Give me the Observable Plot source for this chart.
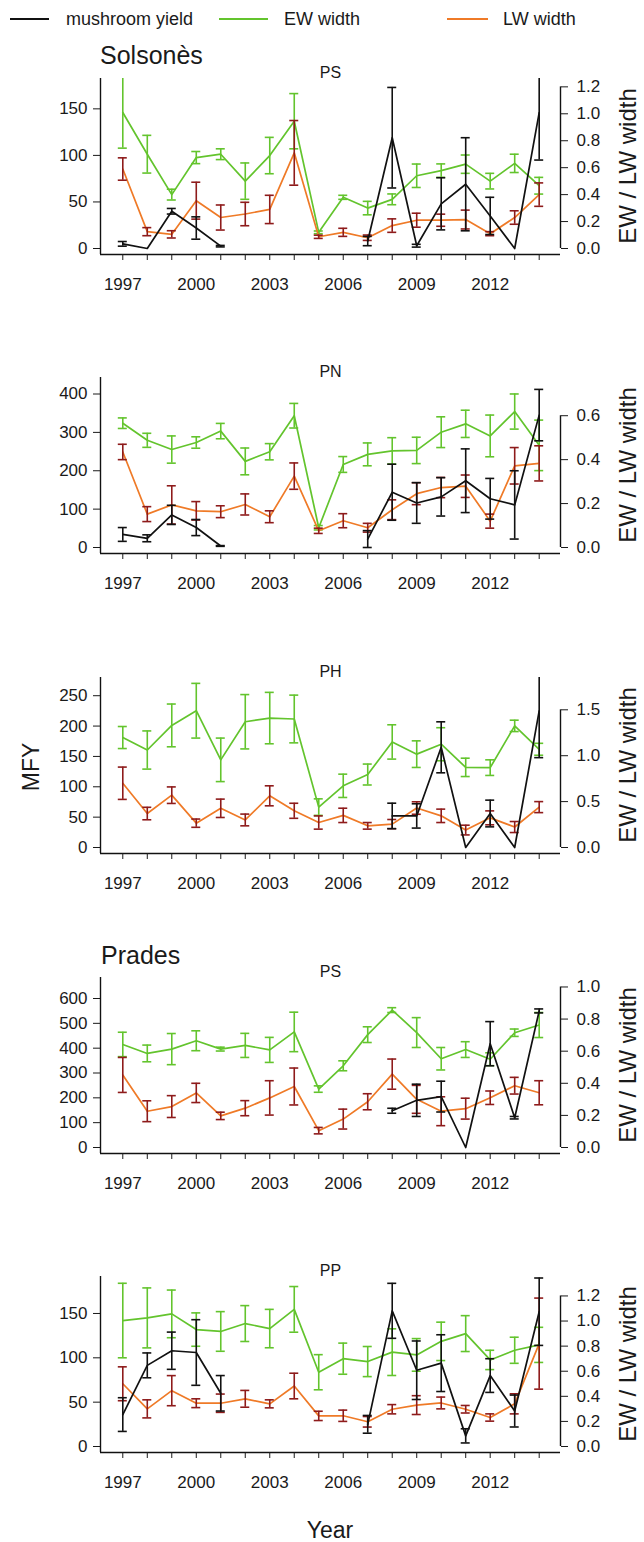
<!DOCTYPE html>
<html>
<head>
<meta charset="utf-8">
<script src="https://cdn.jsdelivr.net/npm/d3@7"></script>
<script src="https://cdn.jsdelivr.net/npm/@observablehq/plot@0.6"></script>
<style>
  body { margin: 0; background: #fff; font-family: "Liberation Sans", Arial, sans-serif; color: #1a1a1a; }
  #fig { position: relative; width: 644px; height: 1542px; overflow: hidden; background: #fff; }
  .abs { position: absolute; white-space: nowrap; }
  .key { position: absolute; height: 0; border-top: 2px solid; }
</style>
</head>
<body>
<div id="fig"></div>
<script>
// Years sampled (x axis) and which of them carry a tick label
const years = d3.range(1997, 2015);
const labeledYears = [1997, 2000, 2003, 2006, 2009, 2012];

// Solsonès – PS: mushroom yield (left axis) and earlywood / latewood width (right axis)
const mushSolPS    = [5, 0, 40, 22, 2.5, null, null, null, null, null, 8, 119, 3, 48, 69, 35, 0, 146];
const mushErrSolPS = [2.5, null, 3, 12, 0.8, null, null, null, null, null, 5, 54, 1.5, 28, 50, 20, null, 51];
const ewSolPS      = [1.01, 0.70, 0.40, 0.675, 0.70, 0.50, 0.69, 0.945, 0.12, 0.38, 0.30, 0.365, 0.54, 0.578, 0.626, 0.50, 0.632, 0.466];
const ewErrSolPS   = [0.265, 0.14, 0.04, 0.045, 0.04, 0.135, 0.135, 0.205, 0.01, 0.015, 0.05, 0.04, 0.087, 0.05, 0.068, 0.058, 0.068, 0.062];
const lwSolPS      = [0.59, 0.125, 0.105, 0.355, 0.23, 0.256, 0.29, 0.71, 0.087, 0.12, 0.08, 0.17, 0.21, 0.21, 0.215, 0.11, 0.23, 0.40];
const lwErrSolPS   = [0.083, 0.03, 0.027, 0.137, 0.093, 0.087, 0.105, 0.24, 0.012, 0.03, 0.02, 0.05, 0.052, 0.045, 0.07, 0.015, 0.05, 0.087];

// Solsonès – PN
const mushSolPN    = [34, 24, 85, 52, 4, null, null, null, null, null, 22, 144, 116, 132, 174, 127, 111, 345];
const mushErrSolPN = [18, 9, 25, 21, 1, null, null, null, null, null, 22, 73, 53, 50, 83, 53, 89, 67];
const ewSolPN      = [0.566, 0.488, 0.446, 0.478, 0.53, 0.392, 0.436, 0.60, 0.09, 0.378, 0.424, 0.44, 0.442, 0.525, 0.563, 0.508, 0.619, 0.465];
const ewErrSolPN   = [0.024, 0.032, 0.062, 0.026, 0.035, 0.061, 0.037, 0.056, 0.01, 0.036, 0.052, 0.06, 0.06, 0.07, 0.062, 0.095, 0.08, 0.115];
const lwSolPN      = [0.435, 0.152, 0.194, 0.167, 0.163, 0.196, 0.14, 0.325, 0.076, 0.122, 0.09, 0.172, 0.245, 0.273, 0.279, 0.12, 0.372, 0.383];
const lwErrSolPN   = [0.035, 0.034, 0.087, 0.042, 0.027, 0.048, 0.027, 0.06, 0.012, 0.032, 0.02, 0.045, 0.05, 0.046, 0.051, 0.032, 0.083, 0.08];

// Solsonès – PH
const mushSolPH    = [null, null, null, null, null, null, null, null, null, null, null, 52, 52, 165, 0, 56, 0, 225];
const mushErrSolPH = [null, null, null, null, null, null, null, null, null, null, null, 21, 20, 42, null, 22, null, 77];
const ewSolPH      = [1.198, 1.062, 1.33, 1.49, 0.955, 1.37, 1.41, 1.40, 0.44, 0.672, 0.795, 1.15, 1.017, 1.125, 0.873, 0.87, 1.325, 1.07];
const ewErrSolPH   = [0.12, 0.208, 0.233, 0.298, 0.237, 0.296, 0.28, 0.26, 0.09, 0.127, 0.114, 0.187, 0.145, 0.18, 0.1, 0.085, 0.062, 0.065];
const lwSolPH      = [0.70, 0.37, 0.57, 0.265, 0.427, 0.30, 0.563, 0.40, 0.272, 0.35, 0.236, 0.255, 0.43, 0.345, 0.19, 0.323, 0.223, 0.44];
const lwErrSolPH   = [0.176, 0.068, 0.09, 0.045, 0.1, 0.064, 0.109, 0.082, 0.072, 0.078, 0.036, 0.05, 0.068, 0.073, 0.053, 0.076, 0.06, 0.06];

// Prades – PS
const mushPraPS    = [null, null, null, null, null, null, null, null, null, null, null, 148, 190, 205, 0, 418, 120, 550];
const mushErrPraPS = [null, null, null, null, null, null, null, null, null, null, null, 10, 65, 62, null, 89, 5, 8];
const ewPraPS      = [0.642, 0.586, 0.613, 0.665, 0.613, 0.636, 0.608, 0.72, 0.364, 0.509, 0.703, 0.856, 0.716, 0.553, 0.61, 0.55, 0.715, 0.763];
const ewErrPraPS   = [0.076, 0.052, 0.097, 0.062, 0.012, 0.075, 0.078, 0.123, 0.02, 0.031, 0.049, 0.015, 0.093, 0.07, 0.049, 0.04, 0.023, 0.078];
const lwPraPS      = [0.452, 0.226, 0.255, 0.34, 0.197, 0.245, 0.309, 0.38, 0.105, 0.177, 0.285, 0.457, 0.30, 0.226, 0.242, 0.31, 0.385, 0.341];
const lwErrPraPS   = [0.109, 0.065, 0.068, 0.06, 0.023, 0.047, 0.107, 0.115, 0.02, 0.062, 0.05, 0.094, 0.087, 0.09, 0.065, 0.042, 0.052, 0.075];

// Prades – PP
const mushPraPP    = [36, 91.5, 108, 106, 60, null, null, null, null, null, 25, 153, 86, 94, 12, 80, 40, 152];
const mushErrPraPP = [19, 14, 21, 37, 20, null, null, null, null, null, 10, 31, 33, 32, 8, 19, 18, 38];
const ewPraPP      = [1.004, 1.025, 1.057, 0.932, 0.917, 0.98, 0.94, 1.093, 0.592, 0.70, 0.677, 0.752, 0.73, 0.838, 0.90, 0.69, 0.767, 0.81];
const ewErrPraPP   = [0.297, 0.239, 0.19, 0.133, 0.158, 0.143, 0.153, 0.182, 0.14, 0.124, 0.12, 0.186, 0.13, 0.153, 0.143, 0.077, 0.104, 0.14];
const lwPraPP      = [0.50, 0.30, 0.445, 0.345, 0.345, 0.38, 0.34, 0.482, 0.244, 0.245, 0.197, 0.297, 0.33, 0.347, 0.297, 0.231, 0.34, 0.82];
const lwErrPraPP   = [0.135, 0.072, 0.12, 0.035, 0.073, 0.067, 0.032, 0.102, 0.037, 0.045, 0.042, 0.037, 0.075, 0.047, 0.03, 0.029, 0.08, 0.363];

// Axis extents (left: mushroom yield, right: ring width) and tick values for each panel
const panelNames   = ["PS", "PN", "PH", "PS", "PP"];
const leftMax      = [182.6, 443, 280, 684.6, 191.7];
const rightMax     = [1.262, 0.774, 1.852, 1.059, 1.355];
const leftTicks    = [[0, 50, 100, 150], [0, 100, 200, 300, 400], [0, 50, 100, 150, 200, 250], [0, 100, 200, 300, 400, 500, 600], [0, 50, 100, 150]];
const rightTicks   = [[0, 0.2, 0.4, 0.6, 0.8, 1.0, 1.2], [0, 0.2, 0.4, 0.6], [0, 0.5, 1.0, 1.5], [0, 0.2, 0.4, 0.6, 0.8, 1.0], [0, 0.2, 0.4, 0.6, 0.8, 1.0, 1.2]];

const series = [
  [mushSolPS, mushErrSolPS, ewSolPS, ewErrSolPS, lwSolPS, lwErrSolPS],
  [mushSolPN, mushErrSolPN, ewSolPN, ewErrSolPN, lwSolPN, lwErrSolPN],
  [mushSolPH, mushErrSolPH, ewSolPH, ewErrSolPH, lwSolPH, lwErrSolPH],
  [mushPraPS, mushErrPraPS, ewPraPS, ewErrPraPS, lwPraPS, lwErrPraPS],
  [mushPraPP, mushErrPraPP, ewPraPP, ewErrPraPP, lwPraPP, lwErrPraPP]
];

// Layout
const frameTops = [78, 377, 677, 977, 1276];
const frameH = 176, zeroLift = 6;
const mTop = 40, mBottom = 60, mLeft = 100, mRight = 84;
const xDomain = [1996.09, 2014.87];
const pxPerYear = (644 - mLeft - mRight) / (xDomain[1] - xDomain[0]);
const cap = 4.5 / pxPerYear;

const COL_MUSH = "#111111", COL_EW = "#63C42D", COL_LW = "#EF7A27", COL_LW_BAR = "#8E1B1B";
const FONT = "'Liberation Sans', Arial, sans-serif";
const fig = document.getElementById("fig");

function errorBars(rows, v, e, color) {
  const d = rows.filter(r => r[v] != null && r[e] != null);
  const common = {stroke: color, strokeWidth: 1.6, clip: true};
  return [
    Plot.ruleX(d, {x: "year", y1: r => r[v] - r[e], y2: r => r[v] + r[e], ...common}),
    Plot.ruleY(d, {y: r => r[v] - r[e], x1: r => r.year - cap, x2: r => r.year + cap, ...common}),
    Plot.ruleY(d, {y: r => r[v] + r[e], x1: r => r.year - cap, x2: r => r.year + cap, ...common})
  ];
}

// text placed around the panels
function label(text, x, y, size, opts = {}) {
  const el = document.createElement("div");
  el.className = "abs";
  el.textContent = text;
  el.style.fontSize = size + "px";
  el.style.lineHeight = "1";
  el.style.left = x + "px";
  el.style.top = y + "px";
  el.style.transform = opts.transform || "translate(0,-50%)";
  fig.appendChild(el);
}

function panel(i) {
  const [mush, mushErr, ew, ewErr, lw, lwErr] = series[i];
  const hi = leftMax[i];
  const f = hi / rightMax[i];              // right-axis units -> left-axis units
  const lo = -hi * zeroLift / (frameH - zeroLift);
  const rows = years.map((year, j) => ({
    year,
    mush: mush[j], mushErr: mushErr[j],
    ew: ew[j] * f, ewErr: ewErr[j] * f,
    lw: lw[j] * f, lwErr: lwErr[j] * f
  }));
  const rt = rightTicks[i];
  const chart = Plot.plot({
    width: 644,
    height: mTop + frameH + mBottom,
    marginTop: mTop, marginBottom: mBottom, marginLeft: mLeft, marginRight: mRight,
    style: {fontFamily: FONT, fontSize: "17px", background: "transparent", overflow: "visible", color: "#1a1a1a"},
    x: {domain: xDomain},
    y: {domain: [lo, hi]},
    marks: [
      // earlywood width
      Plot.line(rows, {x: "year", y: "ew", stroke: COL_EW, strokeWidth: 1.7, clip: true}),
      ...errorBars(rows, "ew", "ewErr", COL_EW),
      // latewood width
      Plot.line(rows, {x: "year", y: "lw", stroke: COL_LW, strokeWidth: 1.7, clip: true}),
      ...errorBars(rows, "lw", "lwErr", COL_LW_BAR),
      // mushroom yield
      Plot.line(rows, {x: "year", y: "mush", stroke: COL_MUSH, strokeWidth: 1.7, clip: true}),
      ...errorBars(rows, "mush", "mushErr", COL_MUSH),
      // axis lines
      Plot.ruleX([xDomain[0]], {stroke: "#111", strokeWidth: 1.4}),
      Plot.ruleY([lo], {stroke: "#111", strokeWidth: 1.4}),
      Plot.ruleX([xDomain[1]], {y1: 0, y2: rt[rt.length - 1] * f, stroke: "#111", strokeWidth: 1.4}),
      // axes
      Plot.axisX(years, {tickSize: 6, label: null, tickFormat: () => ""}),
      Plot.text(labeledYears, {x: d => d, frameAnchor: "bottom", dy: 35, fontSize: 17, text: d => String(d)}),
      Plot.axisY(leftTicks[i], {anchor: "left", tickSize: 7, tickPadding: 6, label: null, fontSize: 17,
        tickFormat: d => String(d)}),
      Plot.axisY(rt.map(t => t * f), {anchor: "right", tickSize: 7, tickPadding: 9, label: null, fontSize: 17,
        tickFormat: d => (d / f).toFixed(1)}),
      Plot.text([panelNames[i]], {frameAnchor: "top", dy: -12, fontSize: 16})
    ]
  });
  const wrap = document.createElement("div");
  wrap.className = "abs";
  wrap.style.left = "0px";
  wrap.style.top = (frameTops[i] - mTop) + "px";
  wrap.appendChild(chart);
  fig.appendChild(wrap);
  // right-axis title, centred on the panel frame
  label("EW / LW width", 628, frameTops[i] + frameH / 2, 24, {transform: "translate(-50%,-50%) rotate(-90deg)"});
}

for (let i = 0; i < 5; i++) panel(i);

// legend
const legendItems = [
  {text: "mushroom yield", color: COL_MUSH, x0: 10, x1: 49, tx: 66},
  {text: "EW width", color: COL_EW, x0: 219, x1: 268, tx: 284},
  {text: "LW width", color: COL_LW, x0: 447, x1: 488, tx: 503}
];
for (const it of legendItems) {
  const k = document.createElement("div");
  k.className = "key";
  k.style.left = it.x0 + "px";
  k.style.width = (it.x1 - it.x0) + "px";
  k.style.top = "18px";
  k.style.borderColor = it.color;
  fig.appendChild(k);
  label(it.text, it.tx, 19, 18);
}

label("Solsonès", 100, 55, 25);
label("Prades", 101, 955, 25);
label("MFY", 31, 767, 23, {transform: "translate(-50%,-50%) rotate(-90deg)"});
label("Year", 330, 1530, 23, {transform: "translate(-50%,-50%)"});
</script>
</body>
</html>
